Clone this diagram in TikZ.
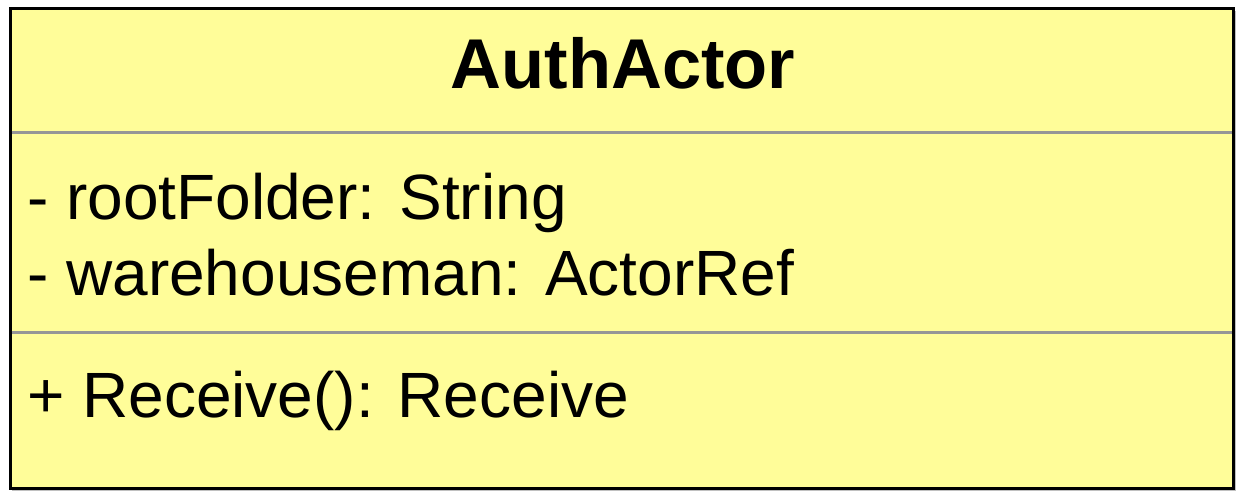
\documentclass[tikz,border=0pt]{standalone}
\usepackage{fontspec}
\setmainfont{Liberation Sans}
\definecolor{classfill}{RGB}{255,253,153}
\definecolor{rulegray}{RGB}{150,150,150}
\begin{document}
\begin{tikzpicture}[x=1pt,y=-1pt,
    classtitle/.style={inner sep=0pt,anchor=base,font=\fontsize{70.5}{80}\selectfont\bfseries},
    member/.style={inner sep=0pt,anchor=base west,font=\fontsize{64}{76}\selectfont}]
    \useasboundingbox (0,0) rectangle (1244,500);
    % shadow and class box
    \fill[rulegray!60] (12,11) rectangle (1236,491);
    \draw[fill=classfill,line width=3pt] (10,9) rectangle (1233,488);
    \draw[rulegray,line width=3pt] (11.5,133) -- (1231.5,133);
    \draw[rulegray,line width=3pt] (11.5,332) -- (1231.5,332);
    \node[classtitle] (name) at (623,89) {AuthActor};
    \node[member] (rootfolder) at (27,219) {- rootFolder: String};
    \node[member] (warehouseman) at (27,295) {- warehouseman: ActorRef};
    \node[member] (receive) at (27,417) {+ Receive(): Receive};
\end{tikzpicture}
\end{document}
